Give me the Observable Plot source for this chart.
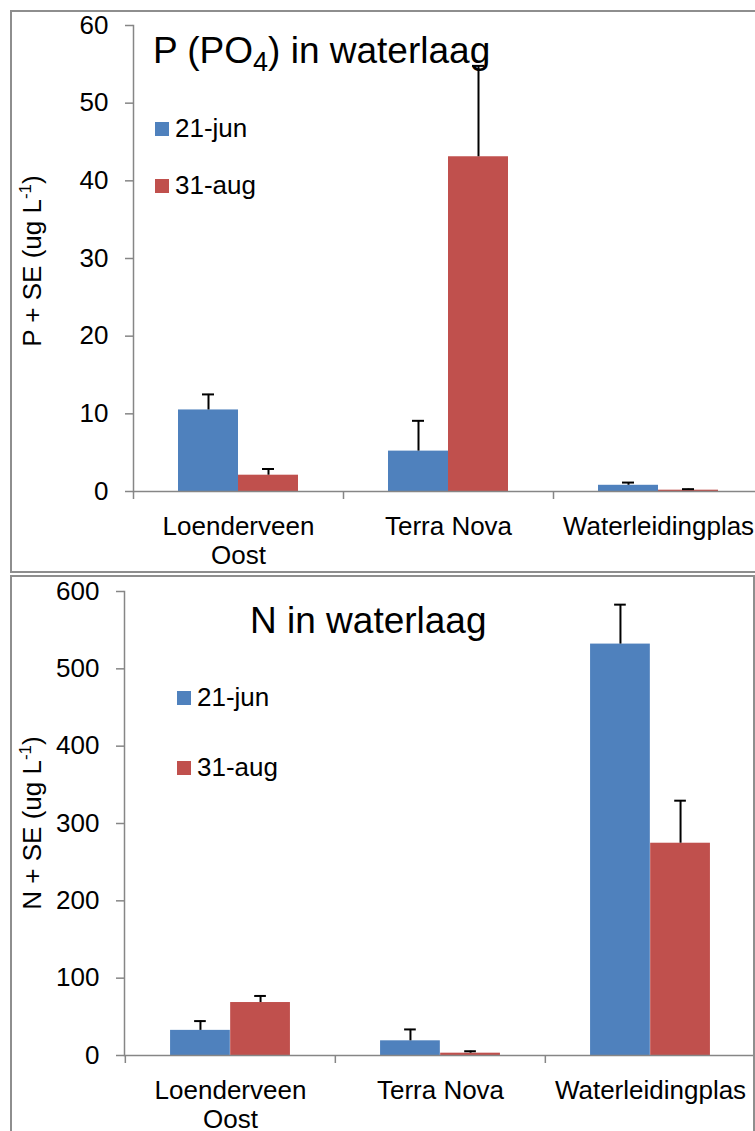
<!DOCTYPE html>
<html><head><meta charset="utf-8">
<script src="https://cdn.jsdelivr.net/npm/d3@7"></script>
<script src="https://cdn.jsdelivr.net/npm/@observablehq/plot@0.6"></script>
<style>
html,body{margin:0;padding:0;overflow:hidden;background:#fff}
body{width:755px;height:1131px;position:relative;font-family:"Liberation Sans",Arial,sans-serif}
.abs{position:absolute;left:0}
.frame{position:absolute;border:2px solid #8e8e8e;box-sizing:border-box;pointer-events:none}
</style></head><body>
<div id="top" class="abs" style="top:0"></div>
<div id="bot" class="abs" style="top:560px"></div>
<div class="frame" style="left:10px;top:10px;width:770px;height:563px"></div>
<div class="frame" style="left:10px;top:575px;width:745px;height:600px"></div>
<svg id="ann" class="abs" style="top:0" width="755" height="1131"></svg>
<script>
// ---- data ----
const categories = ["Loenderveen\nOost", "Terra Nova", "Waterleidingplas"];
const series = ["21-jun", "31-aug"];
const colors = ["#4F81BD", "#C0504D"];

const pJun = [10.5, 5.2, 0.8];
const pJunSE = [2.0, 3.9, 0.35];
const pAug = [2.1, 43.1, 0.17];
const pAugSE = [0.8, 11.7, 0.13];
const pTicks = [0, 10, 20, 30, 40, 50, 60];

const nJun = [32.5, 19, 532];
const nJunSE = [12, 14.7, 51];
const nAug = [68.5, 3, 274.5];
const nAugSE = [8.5, 2.5, 55];
const nTicks = [0, 100, 200, 300, 400, 500, 600];

const grey = "#868686";
const font = '"Liberation Sans", Arial, sans-serif';

function rowsOf(vals, ses) {
  return categories.map((c, k) => ({cat: c, value: vals[k], se: ses[k]}));
}

function panel({values, width, height, marginLeft, marginTop, marginBottom, yDomain, yTicks}) {
  const bw = (width - marginLeft) / categories.length;
  const gapWidth = 1.5; // Excel gap width 150%
  const barW = bw / (series.length + gapWidth);
  const marks = [];
  values.forEach(([vals, ses], i) => {
    const rows = rowsOf(vals, ses);
    const off = (i - (series.length - 1) / 2) * barW;
    marks.push(Plot.barY(rows, {
      x: "cat", y: "value", fill: colors[i],
      insetLeft: bw / 2 + (i - 1) * barW, insetRight: bw / 2 - i * barW
    }));
    marks.push(Plot.ruleX(rows, {
      x: "cat", y1: "value", y2: d => d.value + d.se, dx: off,
      stroke: "#000", strokeWidth: 2
    }));
    marks.push(Plot.tickY(rows, {
      x: "cat", y: d => d.value + d.se, dx: off,
      insetLeft: bw / 2 - 6, insetRight: bw / 2 - 6,
      stroke: "#000", strokeWidth: 2
    }));
  });
  marks.push(Plot.ruleY([0], {stroke: grey, strokeWidth: 1.5}));
  marks.push(Plot.frame({anchor: "left", stroke: grey, strokeWidth: 1.5}));
  marks.push(Plot.ruleX(categories, {
    x: d => d, dx: -bw / 2, y1: 0, y2: 0, insetBottom: -8,
    stroke: grey, strokeWidth: 1.5
  }));
  marks.push(Plot.axisY({
    ticks: yTicks, tickSize: 8, tickPadding: 17, stroke: grey,
    strokeWidth: 1.5, label: null, fontSize: 26, fill: "#000"
  }));
  marks.push(Plot.axisX({
    tickSize: 0, tickPadding: 23, label: null, fontSize: 26,
    lineHeight: 1.12, fill: "#000"
  }));
  return Plot.plot({
    width, height, marginLeft, marginRight: 0, marginTop, marginBottom,
    x: {domain: categories, padding: 0},
    y: {domain: yDomain},
    style: {background: "transparent", maxWidth: "none", overflow: "visible",
            fontFamily: font, fontSize: "26px", color: "#000"},
    marks
  });
}

document.getElementById("top").append(panel({
  values: [[pJun, pJunSE], [pAug, pAugSE]],
  width: 763, height: 572, marginLeft: 133, marginTop: 25, marginBottom: 81,
  yDomain: [0, 60], yTicks: pTicks
}));
document.getElementById("bot").append(panel({
  values: [[nJun, nJunSE], [nAug, nAugSE]],
  width: 755, height: 571, marginLeft: 124, marginTop: 31, marginBottom: 76,
  yDomain: [0, 600], yTicks: nTicks
}));

// ---- titles, legends, axis titles ----
const ann = d3.select("#ann").style("font-family", font);
function title(x, y, parts) {
  const t = ann.append("text").attr("x", x).attr("y", y).attr("font-size", 37).attr("fill", "#000");
  parts.forEach(([s, kind]) => {
    const ts = t.append("tspan").text(s);
    if (kind === "sub") ts.attr("font-size", 27).attr("dy", 8);
    if (kind === "after") ts.attr("dy", -8);
  });
}
title(153, 63, [["P (PO"], ["4", "sub"], [") in waterlaag", "after"]]);
title(250, 633, [["N in waterlaag"]]);

function legend(x, ys) {
  series.forEach((s, i) => {
    ann.append("rect").attr("x", x).attr("y", ys[i] - 15).attr("width", 14).attr("height", 14).attr("fill", colors[i]);
    ann.append("text").attr("x", x + 20).attr("y", ys[i]).attr("font-size", 26).text(s);
  });
}
legend(155, [137, 194]);
legend(177, [706, 776]);

function ylabel(cx, cy, letter) {
  const t = ann.append("text").attr("transform", `translate(${cx},${cy}) rotate(-90)`)
    .attr("text-anchor", "middle").attr("font-size", 26);
  t.append("tspan").text(`${letter} + SE (ug L`);
  t.append("tspan").text("-1").attr("font-size", 17).attr("dy", -10);
  t.append("tspan").text(")").attr("dy", 10);
}
ylabel(41, 261, "P");
ylabel(41, 823, "N");
</script>
</body></html>
